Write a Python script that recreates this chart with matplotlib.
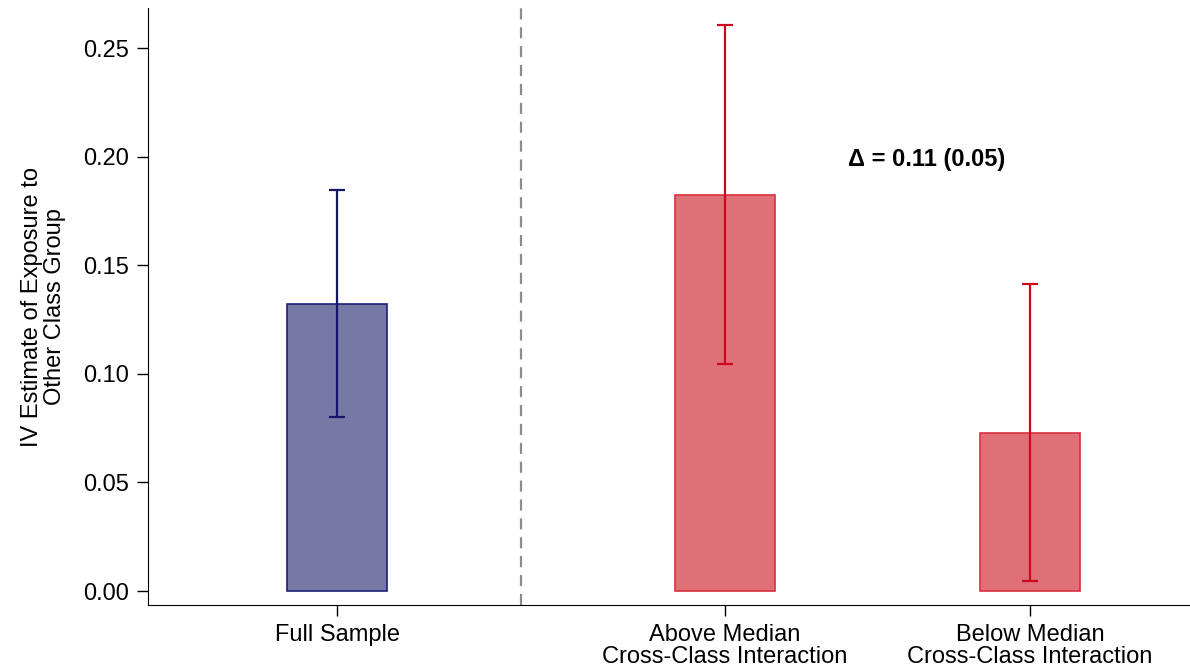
import matplotlib.pyplot as plt
import numpy as np

plt.rcParams['font.family'] = ['Liberation Sans', 'DejaVu Sans']

labels = ["Full Sample", "Above Median\nCross-Class Interaction", "Below Median\nCross-Class Interaction"]
positions = [0.0, 1.272, 2.272]
estimates = [0.132, 0.1823, 0.0727]
ci_low = [0.0801, 0.1045, 0.0046]
ci_high = [0.1846, 0.2606, 0.1413]

fill_colors = ["#7878a6", "#e07077", "#e07077"]
edge_colors = ["#1f1f75", "#d8303f", "#d8303f"]
err_colors = ["#14146b", "#cc0a1e", "#cc0a1e"]

fig = plt.figure(figsize=(11.9, 6.72), dpi=100)
ax = fig.add_axes([0.1244, 0.0997, 0.8756, 0.8883])

for x, est, lo, hi, fc, ec, erc in zip(positions, estimates, ci_low, ci_high,
                                        fill_colors, edge_colors, err_colors):
    ax.bar(x, est, width=0.328, color=fc, edgecolor=ec, linewidth=1.2, zorder=2)
    ax.errorbar(x, est, yerr=[[est - lo], [hi - est]], fmt='none', ecolor=erc,
                elinewidth=1.6, capsize=6, capthick=1.6, zorder=3)

ax.axvline(0.603, color="#8c8c8c", linestyle=(0, (5, 3.5)), linewidth=1.6, zorder=1)

ax.text(1.934, 0.1985, "Δ = 0.11 (0.05)", ha="center", va="center",
        fontsize=17, fontweight="bold")

ax.set_xlim(-0.62, 2.797)
ax.set_ylim(-0.0064, 0.2684)
ax.set_xticks(positions)
ax.set_xticklabels(labels, fontsize=17, linespacing=1.0)
ax.set_yticks(np.arange(0, 0.26, 0.05))
ax.set_yticklabels([f"{v:.2f}" for v in np.arange(0, 0.26, 0.05)], fontsize=17)
ax.set_ylabel("IV Estimate of Exposure to\nOther Class Group", fontsize=17,
              linespacing=1.08, labelpad=12)

ax.spines['top'].set_visible(False)
ax.spines['right'].set_visible(False)
ax.tick_params(axis='both', direction='out', length=8, width=1, pad=6)

fig.savefig("out.png", dpi=100)
